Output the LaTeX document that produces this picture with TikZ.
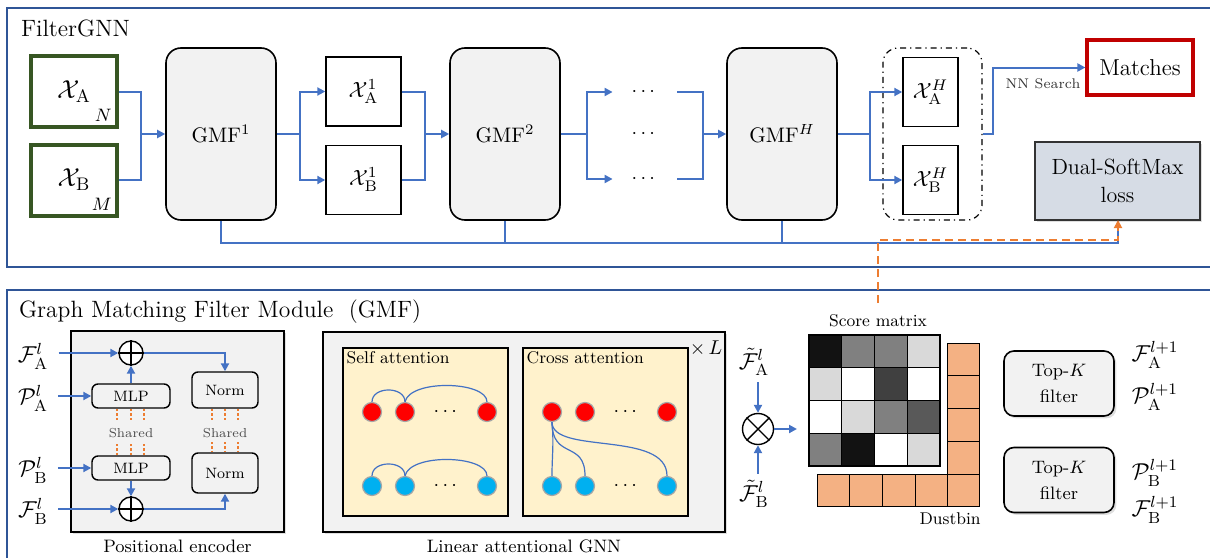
\RequirePackage{fix-cm}
\documentclass[tikz,border=0pt]{standalone}
\usepackage{amsmath}
\usetikzlibrary{arrows.meta,shadows}

\definecolor{frameblue}{HTML}{2F5597}
\definecolor{linkblue}{HTML}{4472C4}
\definecolor{inputgreen}{HTML}{375623}
\definecolor{matchred}{HTML}{C00000}
\definecolor{lossorange}{HTML}{ED7D31}
\definecolor{boxgray}{HTML}{F2F2F2}
\definecolor{lossfill}{HTML}{D6DCE5}
\definecolor{attnyellow}{HTML}{FFF2CC}
\definecolor{binorange}{HTML}{F4B183}
\definecolor{nodered}{HTML}{FF0000}
\definecolor{nodeblue}{HTML}{00B0F0}

\begin{document}
\begin{tikzpicture}[x=0.5pt,y=-0.5pt,
  link/.style={draw=linkblue,line width=1pt},
  flow/.style={link,-{Triangle[length=4pt,width=4pt]}},
  arc/.style={draw=linkblue,line width=0.6pt},
  shadowed/.style={drop shadow={opacity=0.25,shadow xshift=1.2pt,shadow yshift=-1.2pt}},
  title/.style={anchor=west,font=\fontsize{11.8}{14}\selectfont},
  inbox/.style={draw=inputgreen,line width=2pt,fill=white,minimum width=43pt,minimum height=35.5pt,font=\fontsize{13}{15}\selectfont},
  featbox/.style={draw,line width=0.7pt,fill=white,minimum height=34.5pt,font=\fontsize{11}{13}\selectfont},
  gmfbox/.style={draw,line width=0.8pt,fill=boxgray,rounded corners=7.5pt,minimum width=55pt,minimum height=86pt,font=\fontsize{10.5}{12}\selectfont},
  dotsnode/.style={minimum width=32pt,inner sep=0pt},
  smallbox/.style={draw,line width=0.7pt,fill=boxgray,rounded corners=3pt,font=\fontsize{7.5}{9}\selectfont},
  opnode/.style={draw,circle,line width=0.7pt,fill=white,inner sep=0pt},
  shared/.style={draw=lossorange,line width=0.6pt,dash pattern=on 1.2pt off 1pt},
  sharelab/.style={text=black!70,font=\fontsize{6.5}{8}\selectfont},
  caption/.style={font=\fontsize{9}{11}\selectfont},
  attnbox/.style={draw,line width=0.7pt,fill=attnyellow,minimum width=82.5pt,minimum height=84pt},
  rnode/.style={circle,draw=black!35,line width=0.6pt,fill=nodered,minimum size=9.5pt,inner sep=0pt},
  bnode/.style={rnode,fill=nodeblue},
  topk/.style={draw,line width=0.8pt,fill=boxgray,rounded corners=5pt,minimum width=55pt,minimum height=32.5pt,align=center,font=\fontsize{9}{13}\selectfont,shadowed},
  mathlab/.style={inner sep=1pt,font=\fontsize{11.5}{13}\selectfont}]
  \useasboundingbox (0,0) rectangle (1210,557);

  % the two panels
  \draw[frameblue,line width=1pt] (7,8) rectangle (1220,267);
  \draw[frameblue,line width=1pt] (7,290) rectangle (1220,570);

  % ---------------- FilterGNN ----------------
  \node[title] (filtergnn) at (14,28) {FilterGNN};
  \node[inbox] (xa) at (74,91.5) {$\mathcal{X}_{\mathrm{A}}$};
  \node[inbox] (xb) at (74,180) {$\mathcal{X}_{\mathrm{B}}$};
  \node[anchor=south east,inner sep=3.5pt,font=\fontsize{9}{10}\selectfont] (nsize) at (xa.south east) {$N$};
  \node[anchor=south east,inner sep=3.5pt,font=\fontsize{9}{10}\selectfont] (msize) at (xb.south east) {$M$};

  \node[gmfbox] (gmf1) at (221,134) {GMF$^{1}$};
  \node[featbox,minimum width=37.5pt] (xa1) at (363.5,91.5) {$\mathcal{X}_{\mathrm{A}}^{1}$};
  \node[featbox,minimum width=37.5pt] (xb1) at (363.5,180) {$\mathcal{X}_{\mathrm{B}}^{1}$};
  \node[gmfbox] (gmf2) at (505,134) {GMF$^{2}$};
  \node[dotsnode] (da) at (645,92) {$\cdots$};
  \node[dotsnode] (dm) at (645,134) {$\cdots$};
  \node[dotsnode] (db) at (645,179) {$\cdots$};
  \node[gmfbox] (gmfh) at (782,134) {GMF$^{H}$};
  \node[draw,line width=0.6pt,dash dot,rounded corners=7.5pt,minimum width=49.5pt,minimum height=86pt] (grp) at (932.5,134) {};
  \node[featbox,minimum width=27.5pt] (xah) at (930.5,92) {$\mathcal{X}_{\mathrm{A}}^{H}$};
  \node[featbox,minimum width=27.5pt] (xbh) at (930.5,180) {$\mathcal{X}_{\mathrm{B}}^{H}$};
  \node[draw=matchred,line width=1.6pt,minimum width=53pt,minimum height=27.5pt,font=\fontsize{11.5}{13}\selectfont] (match) at (1140,67.5) {Matches};
  \node[font=\fontsize{7}{8}\selectfont,text=black!80] (nn) at (1043,84) {NN Search};
  \node[draw=black!80,line width=0.9pt,fill=lossfill,minimum width=82.5pt,minimum height=39pt,align=center,font=\fontsize{11}{14}\selectfont,shadowed] (loss) at (1117.5,181) {Dual-SoftMax\\loss};

  \coordinate (j0) at (141,134);
  \coordinate (j1) at (300,134);
  \coordinate (j2) at (425,134);
  \coordinate (j3) at (587,134);
  \coordinate (j4) at (703,134);
  \coordinate (j5) at (870,134);
  \coordinate (j6) at (993,134);
  \coordinate (jl) at (1118,243);
  \draw[link] (xa.east) -| (j0) |- (xb.east);
  \draw[flow] (j0) -- (gmf1.west);
  \draw[link] (gmf1.east) -- (j1);
  \draw[flow] (j1) |- (xa1.west);
  \draw[flow] (j1) |- (xb1.west);
  \draw[link] (xa1.east) -| (j2) |- (xb1.east);
  \draw[flow] (j2) -- (gmf2.west);
  \draw[link] (gmf2.east) -- (j3);
  \draw[flow] (j3) |- (da.west);
  \draw[flow] (j3) |- (db.west);
  \draw[link] (da.east) -| (j4) |- (db.east);
  \draw[flow] (j4) -- (gmfh.west);
  \draw[link] (gmfh.east) -- (j5);
  \draw[flow] (j5) |- (xah.west);
  \draw[flow] (j5) |- (xbh.west);
  \draw[flow] (grp.east) -- (j6) |- (match.west);
  \draw[link] (gmf1.south) |- (jl) -- (jl |- loss.south);
  \draw[link] (gmf2.south) -- (gmf2.south |- jl);
  \draw[link] (gmfh.south) -- (gmfh.south |- jl);
  \coordinate (smtop) at (878,303);
  \draw[lossorange,line width=0.9pt,dash pattern=on 4pt off 2.5pt,-{Triangle[length=4pt,width=4pt]}] (smtop) |- (1118,240) -- (1118,220);

  % ---------------- GMF module ----------------
  \node[title] (gmftitle) at (12,312) {Graph Matching Filter Module\ \ (GMF)};

  % positional encoder
  \node[draw,line width=0.8pt,fill=boxgray,minimum width=106.5pt,minimum height=100.5pt,shadowed] (pe) at (177.5,431.5) {};
  \node[caption,below] (pelab) at (pe.south) {Positional encoder};
  \node[opnode,minimum size=12pt] (pa) at (131,353) {};
  \node[opnode,minimum size=12pt] (pb) at (131,509) {};
  \draw[line width=0.7pt] (pa.north) -- (pa.south) (pa.west) -- (pa.east);
  \draw[line width=0.7pt] (pb.north) -- (pb.south) (pb.west) -- (pb.east);
  \node[smallbox,minimum width=39pt,minimum height=12pt] (mlpa) at (131,396) {MLP};
  \node[smallbox,minimum width=39pt,minimum height=12pt] (mlpb) at (131,468) {MLP};
  \node[smallbox,minimum width=33pt,minimum height=18pt] (norma) at (225,390) {Norm};
  \node[smallbox,minimum width=33pt,minimum height=20pt] (normb) at (225,473) {Norm};
  \node[sharelab] (sharea) at (131,433) {Shared};
  \node[sharelab] (shareb) at (225,433) {Shared};
  \node[mathlab] (fal) at (33,356) {$\mathcal{F}_{\mathrm{A}}^{l}$};
  \node[mathlab] (pal) at (33,398) {$\mathcal{P}_{\mathrm{A}}^{l}$};
  \node[mathlab] (pbl) at (33,470) {$\mathcal{P}_{\mathrm{B}}^{l}$};
  \node[mathlab] (fbl) at (33,511) {$\mathcal{F}_{\mathrm{B}}^{l}$};
  \draw[flow] ([xshift=4pt]fal.east |- pa) -- (pa.west);
  \draw[flow] ([xshift=4pt]pal.east |- mlpa) -- (mlpa.west);
  \draw[flow] ([xshift=4pt]pbl.east |- mlpb) -- (mlpb.west);
  \draw[flow] ([xshift=4pt]fbl.east |- pb) -- (pb.west);
  \draw[flow] (mlpa.north) -- (pa.south);
  \draw[flow] (mlpb.south) -- (pb.north);
  \draw[flow] (pa.east) -| (norma.north);
  \draw[flow] (pb.east) -| (normb.south);
  \draw[shared] (117,409) -- (117,421) (131,409) -- (131,421) (144,409) -- (144,421);
  \draw[shared] (117,444) -- (117,455) (131,444) -- (131,455) (144,444) -- (144,455);
  \draw[shared] (212,409) -- (212,421) (225,409) -- (225,421) (238,409) -- (238,421);
  \draw[shared] (212,442) -- (212,452) (225,442) -- (225,452) (238,442) -- (238,452);

  % linear attentional GNN
  \node[draw,line width=0.8pt,fill=boxgray,minimum width=201pt,minimum height=100pt,shadowed] (gnn) at (524,432) {};
  \node[caption,below] (gnnlab) at (gnn.south) {Linear attentional GNN};
  \node[font=\fontsize{10}{12}\selectfont] (rep) at (706,348) {$\times\,L$};
  \node[attnbox] (self) at (425.5,432) {};
  \node[attnbox] (cross) at (605.5,432) {};
  \node[anchor=north west,inner sep=2pt,font=\fontsize{8.5}{10}\selectfont] (selflab) at (self.north west) {Self attention};
  \node[anchor=north west,inner sep=2pt,font=\fontsize{8.5}{10}\selectfont] (crosslab) at (cross.north west) {Cross attention};
  \node[rnode] (s1) at (372,412) {};
  \node[rnode] (s2) at (405,412) {};
  \node (sdr) at (447,412) {$\cdots$};
  \node[rnode] (s3) at (487,412) {};
  \node[bnode] (t1) at (372,486) {};
  \node[bnode] (t2) at (405,486) {};
  \node (sdb) at (447,486) {$\cdots$};
  \node[bnode] (t3) at (487,486) {};
  \draw[arc] (s1.north) .. controls (372,386) and (405,386) .. (s2.north);
  \draw[arc] (s2.north) .. controls (410,379) and (487,381) .. (s3.north);
  \draw[arc] (t1.north) .. controls (372,460) and (405,460) .. (t2.north);
  \draw[arc] (t2.north) .. controls (410,453) and (487,455) .. (t3.north);
  \node[rnode] (c1) at (552,412) {};
  \node[rnode] (c2) at (585,412) {};
  \node (cdr) at (627,412) {$\cdots$};
  \node[rnode] (c3) at (667,412) {};
  \node[bnode] (d1) at (552,486) {};
  \node[bnode] (d2) at (585,486) {};
  \node (cdb) at (627,486) {$\cdots$};
  \node[bnode] (d3) at (667,486) {};
  \draw[arc] (c1.south) .. controls (554,445) and (552,455) .. (d1.north);
  \draw[arc] (c1.south) .. controls (552,460) and (585,440) .. (d2.north);
  \draw[arc] (c1.south) .. controls (552,455) and (667,430) .. (d3.north);

  % score matrix with dustbins
  \node[opnode,minimum size=15.5pt] (ot) at (758,429) {};
  \draw[line width=0.7pt] (ot.north west) -- (ot.south east) (ot.north east) -- (ot.south west);
  \node[mathlab] (fta) at (754,362) {$\tilde{\mathcal{F}}_{\mathrm{A}}^{l}$};
  \node[mathlab] (ftb) at (754,494) {$\tilde{\mathcal{F}}_{\mathrm{B}}^{l}$};
  \coordinate (smin) at (797,429);
  \draw[flow] ([yshift=-2pt]fta.south -| ot) -- (ot.north);
  \draw[flow] ([yshift=2pt]ftb.north -| ot) -- (ot.south);
  \draw[flow] (ot.east) -- (smin);
  \node[font=\fontsize{8.5}{10}\selectfont] (score) at (878,321) {Score matrix};
  \filldraw[fill=black!93] (809,335) rectangle ++(32.75,32.75); \filldraw[fill=black!50] (841.75,335) rectangle ++(32.75,32.75); \filldraw[fill=black!50] (874.5,335) rectangle ++(32.75,32.75); \filldraw[fill=black!15] (907.25,335) rectangle ++(32.75,32.75);
  \filldraw[fill=black!15] (809,367.75) rectangle ++(32.75,32.75); \filldraw[fill=white] (841.75,367.75) rectangle ++(32.75,32.75); \filldraw[fill=black!75] (874.5,367.75) rectangle ++(32.75,32.75); \filldraw[fill=white] (907.25,367.75) rectangle ++(32.75,32.75);
  \filldraw[fill=white] (809,400.5) rectangle ++(32.75,32.75); \filldraw[fill=black!15] (841.75,400.5) rectangle ++(32.75,32.75); \filldraw[fill=black!50] (874.5,400.5) rectangle ++(32.75,32.75); \filldraw[fill=black!65] (907.25,400.5) rectangle ++(32.75,32.75);
  \filldraw[fill=black!50] (809,433.25) rectangle ++(32.75,32.75); \filldraw[fill=black!93] (841.75,433.25) rectangle ++(32.75,32.75); \filldraw[fill=white] (874.5,433.25) rectangle ++(32.75,32.75); \filldraw[fill=black!15] (907.25,433.25) rectangle ++(32.75,32.75);
  \draw[line width=1pt] (809,335) rectangle (940,466);
  \filldraw[fill=binorange] (947,343) rectangle ++(32.75,32.75); \filldraw[fill=binorange] (947,375.75) rectangle ++(32.75,32.75); \filldraw[fill=binorange] (947,408.5) rectangle ++(32.75,32.75); \filldraw[fill=binorange] (947,441.25) rectangle ++(32.75,32.75);
  \filldraw[fill=binorange] (817,474) rectangle ++(32.75,32.75); \filldraw[fill=binorange] (849.75,474) rectangle ++(32.75,32.75); \filldraw[fill=binorange] (882.5,474) rectangle ++(32.75,32.75); \filldraw[fill=binorange] (915.25,474) rectangle ++(32.75,32.75); \filldraw[fill=binorange] (947,474) rectangle ++(32.75,32.75);
  \node[anchor=east,inner sep=0pt,font=\fontsize{8.5}{10}\selectfont] (dust) at (981,519) {Dustbin};

  % top-k filters
  \node[topk] (tka) at (1059,383.5) {Top-$K$\\filter};
  \node[topk] (tkb) at (1059,480) {Top-$K$\\filter};
  \node[mathlab] (fa1) at (1155,355) {$\mathcal{F}_{\mathrm{A}}^{l+1}$};
  \node[mathlab] (pa1) at (1155,397) {$\mathcal{P}_{\mathrm{A}}^{l+1}$};
  \node[mathlab] (pb1) at (1155,473) {$\mathcal{P}_{\mathrm{B}}^{l+1}$};
  \node[mathlab] (fb1) at (1155,510) {$\mathcal{F}_{\mathrm{B}}^{l+1}$};
\end{tikzpicture}
\end{document}
